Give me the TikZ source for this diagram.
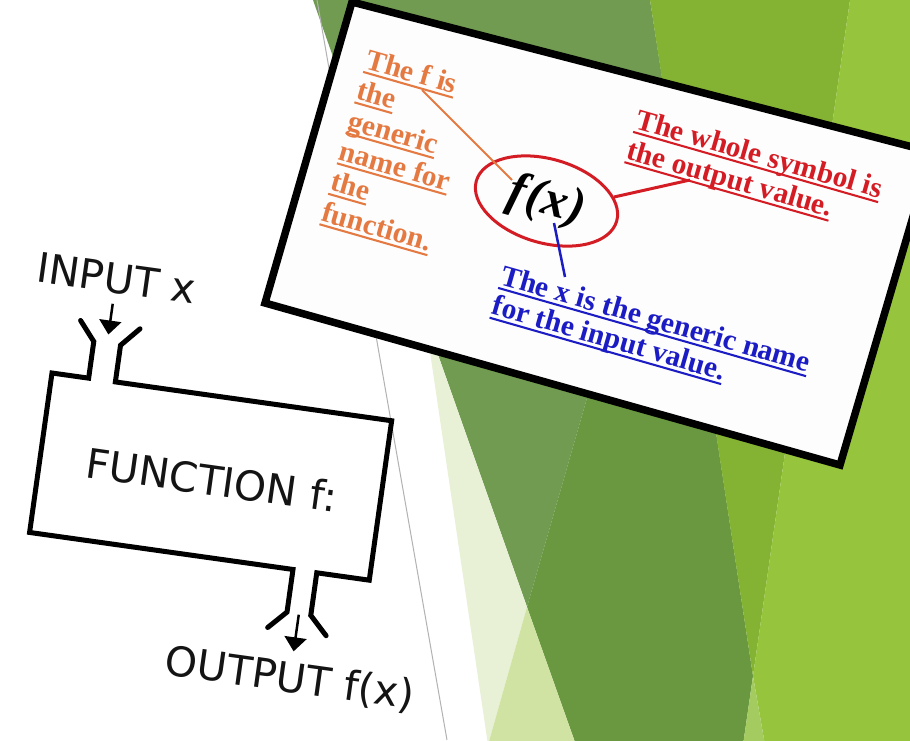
\documentclass[tikz,border=0pt]{standalone}
\usepackage{fontspec}
\setmainfont{Liberation Serif}
\newfontfamily\machfont{DejaVu Sans}
\usetikzlibrary{arrows.meta,shapes.geometric}
\definecolor{bgmuted}{RGB}{112,155,80}
\definecolor{bgdark}{RGB}{105,152,64}
\definecolor{bgmid}{RGB}{132,179,52}
\definecolor{bglight}{RGB}{150,196,60}
\definecolor{bgsliver}{RGB}{163,203,95}
\definecolor{bgpale}{RGB}{232,241,214}
\definecolor{bgtri}{RGB}{208,227,162}
\definecolor{cardfill}{RGB}{253,253,253}
\definecolor{orangeT}{RGB}{228,122,66}
\definecolor{redT}{RGB}{212,28,36}
\definecolor{blueT}{RGB}{28,28,196}
\newcommand{\ulin}[1]{\setbox0\hbox{#1}\rlap{\rule[-0.17em]{\wd0}{0.07em}}\box0}
\begin{document}
\begin{tikzpicture}[x=1pt,y=-1pt,
  cardtxt/.style={font=\fontsize{29.5}{31}\selectfont\bfseries, inner sep=0pt, anchor=base west},
  machtxt/.style={font=\machfont\fontsize{41}{41}\selectfont, inner sep=0pt, anchor=base, text=black!92},
  machline/.style={line width=5pt, line cap=round},
  macharrow/.style={line width=2.5pt, -{Triangle[width=22pt,length=14pt]}},
  conn/.style={line width=2.5pt}
]
\useasboundingbox (0,0) rectangle (910,740);
\clip (0,0) rectangle (910,740);
\fill[white] (0,0) rectangle (910,740);
% background facets
\fill[bgmuted] (313,0) -- (650,0) -- (668,116) -- (527,607) -- cycle;
\fill[bgdark] (668,116) -- (753,676) -- (743,745) -- (576,745) -- (527,607) -- cycle;
\fill[bgmid] (650,0) -- (850,0) -- (753,676) -- cycle;
\fill[bglight] (850,0) -- (915,0) -- (915,745) -- (765,745) -- (753,676) -- cycle;
\fill[bgsliver] (753,676) -- (765,745) -- (743,745) -- cycle;
\fill[bgpale] (425,318) -- (527,607) -- (488,745) -- cycle;
\fill[bgtri] (527,607) -- (576,745) -- (488,745) -- cycle;
\draw[black!30, line width=1pt] (317,0) -- (447,740);

% function machine
\begin{scope}[shift={(52,373)}, rotate=-8, transform shape]
  \draw[machline] (21,-56) -- (37,-37) -- (37,0) -- (0,0) -- (0,161) -- (266,161) -- (266,204) -- (249,222);
  \draw[machline] (308,222) -- (290,204) -- (290,161) -- (343,161) -- (343,0) -- (64,0) -- (64,-37) -- (81,-56);
  \node[machtxt] (inlbl) at (51,-88) {INPUT x};
  \node[machtxt] (fnlbl) at (173,99) {FUNCTION f:};
  \node[machtxt] (outlbl) at (278,283) {OUTPUT f(x)};
  \coordinate (inA) at (50.5,-77);
  \coordinate (inB) at (50.5,-46);
  \coordinate (outA) at (278,205);
  \coordinate (outB) at (278,242);
  \draw[macharrow] (inA) -- (inB);
  \draw[macharrow] (outA) -- (outB);
\end{scope}

% card
\draw[line width=7.5pt, fill=cardfill] (352,2) -- (932,152) -- (840,465) -- (265,303) -- cycle;

\begin{scope}[shift={(364,68)}, rotate=-16, transform shape]
  \node[cardtxt, text=orangeT] (o1) at (0,0) {\ulin{The f is}};
  \node[cardtxt, text=orangeT] (o2) at (0,31.7) {\ulin{the}};
  \node[cardtxt, text=orangeT] (o3) at (0,63.4) {\ulin{generic}};
  \node[cardtxt, text=orangeT] (o4) at (0,95.1) {\ulin{name for}};
  \node[cardtxt, text=orangeT] (o5) at (0,126.8) {\ulin{the}};
  \node[cardtxt, text=orangeT] (o6) at (0,158.5) {\ulin{function.}};
\end{scope}
\begin{scope}[shift={(634,128)}, rotate=-16, transform shape]
  \node[cardtxt, text=redT] (r1) at (0,0) {\ulin{The whole symbol is}};
  \node[cardtxt, text=redT] (r2) at (0,31.5) {\ulin{the output value.}};
\end{scope}
\begin{scope}[shift={(499,284)}, rotate=-16, transform shape]
  \node[cardtxt, text=blueT] (b1) at (0,0) {\ulin{The x is the generic name}};
  \node[cardtxt, text=blueT] (b2) at (0,31) {\ulin{for the input value.}};
\end{scope}

\node[ellipse, draw=redT, line width=3pt, minimum width=146pt, minimum height=84pt, inner sep=0pt, rotate=-16] (ring) at (546.5,201) {};
\node[rotate=-16, inner sep=0pt, font=\fontsize{50}{50}\selectfont\bfseries\itshape] (fx) at (546,202) {f\kern2pt(x\kern1pt)};

\coordinate (oStart) at (422,90);
\coordinate (oEnd) at (512,180);
\coordinate (rStart) at (614,197);
\coordinate (rEnd) at (690,180);
\coordinate (bStart) at (554,223);
\coordinate (bEnd) at (565,277);
\draw[conn, orangeT, line width=2pt] (oStart) -- (oEnd);
\draw[conn, redT, line width=3pt] (rStart) -- (rEnd);
\draw[conn, blueT] (bStart) -- (bEnd);
\end{tikzpicture}
\end{document}
